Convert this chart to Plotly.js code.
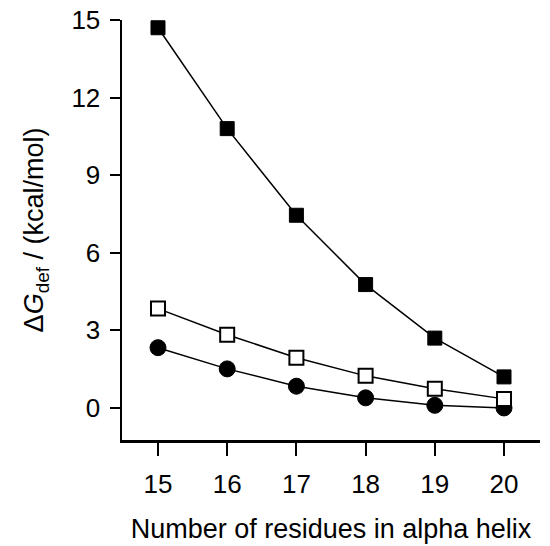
<!DOCTYPE html>
<html><head><meta charset="utf-8">
<script src="https://cdn.plot.ly/plotly-3.0.1.min.js"></script>
<style>html,body{margin:0;padding:0;background:#fff}#c{width:550px;height:546px}</style>
</head><body><div id="c"></div>
<script>
const residues = [15, 16, 17, 18, 19, 20];
const filledSquares = [14.7, 10.8, 7.45, 4.77, 2.7, 1.2];
const openSquares = [3.84, 2.83, 1.94, 1.24, 0.74, 0.35];
const filledCircles = [2.33, 1.51, 0.84, 0.39, 0.1, 0.0];
const yTicks = [0, 3, 6, 9, 12, 15];

const lineStyle = {color: '#000', width: 1.5};
const traces = [
  {x: residues, y: filledCircles, mode: 'lines+markers', line: lineStyle,
   marker: {symbol: 'circle', size: 16, color: '#000', line: {color: '#000', width: 1}}},
  {x: residues, y: openSquares, mode: 'lines+markers', line: lineStyle,
   marker: {symbol: 'square', size: 14, color: '#fff', line: {color: '#000', width: 2}}},
  {x: residues, y: filledSquares, mode: 'lines+markers', line: lineStyle,
   marker: {symbol: 'square', size: 14, color: '#000', line: {color: '#000', width: 1}}}
];
const font = {family: 'Liberation Sans, Arial, sans-serif', color: '#000'};
const layout = {
  width: 550, height: 546,
  margin: {l: 122, r: 10, t: 20, b: 106},
  showlegend: false,
  paper_bgcolor: '#fff', plot_bgcolor: '#fff',
  font: font,
  xaxis: {
    range: [14.48, 20.52], tickvals: residues, ticktext: residues.map(String),
    showgrid: false, zeroline: false, showline: true, linecolor: '#000', linewidth: 2.5,
    ticks: 'outside', ticklen: 13, tickwidth: 2, tickcolor: '#000', ticklabelstandoff: 6,
    tickfont: {size: 26, family: font.family, color: '#000'},
    title: {text: 'Number of residues in alpha helix', font: {size: 27, family: font.family, color: '#000'}, standoff: 22}
  },
  yaxis: {
    range: [-1.24, 15], tickvals: yTicks, ticktext: yTicks.map(String),
    showgrid: false, zeroline: false, showline: true, linecolor: '#000', linewidth: 2.5,
    ticks: 'outside', ticklen: 10, tickwidth: 2, tickcolor: '#000', ticklabelstandoff: 4,
    tickfont: {size: 26, family: font.family, color: '#000'},
    title: {text: 'Δ<i>G</i><sub>def</sub> / (kcal/mol)', font: {size: 27, family: font.family, color: '#000'}, standoff: 20}
  }
};
Plotly.newPlot('c', traces, layout, {displayModeBar: false, staticPlot: true});
</script></body></html>
